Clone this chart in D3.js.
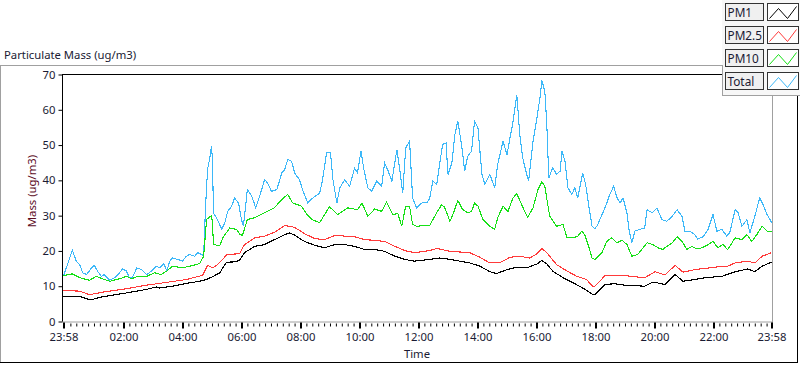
<!DOCTYPE html>
<html><head><meta charset="utf-8">
<script src="https://cdn.jsdelivr.net/npm/d3@7"></script>
<style>
html,body{margin:0;padding:0;background:#fff;}
svg{display:block;font-family:"Segoe UI","Noto Sans",sans-serif;}
</style></head>
<body>
<script>
// time in minutes since 23:58 (start), value in ug/m3
const pm1 = [[0,7.2],[33,7.1],[53,6.2],[57,6.2],[79,7.0],[128,8.1],[169,9.1],[189,9.8],[195,9.5],[222,10.0],[250,10.8],[277,11.4],[291,11.9],[303,12.7],[318,13.8],[324,15.2],[332,16.8],[348,16.9],[358,17.3],[368,19.5],[389,21.3],[409,21.8],[429,23.2],[450,24.6],[460,25.1],[470,24.5],[490,22.7],[511,21.6],[531,20.9],[552,21.8],[572,21.8],[592,21.3],[613,20.4],[633,20.4],[653,19.9],[674,18.5],[694,17.6],[714,17.1],[745,17.6],[765,18.0],[786,17.6],[806,17.1],[826,16.6],[847,15.7],[867,14.1],[881,13.6],[902,14.7],[922,15.4],[942,15.2],[963,16.3],[973,17.3],[983,16.3],[995,14.3],[1016,12.4],[1036,11.0],[1056,9.5],[1075,7.8],[1081,7.6],[1091,9.1],[1101,10.5],[1121,10.7],[1142,10.3],[1182,10.0],[1199,11.2],[1223,10.5],[1244,13.3],[1260,11.4],[1284,11.9],[1305,12.4],[1339,12.8],[1366,14.1],[1392,14.9],[1406,14.1],[1421,15.7],[1440,16.8]];

const pm25 = [[0,8.8],[33,8.6],[53,7.6],[79,8.3],[128,9.3],[169,10.3],[195,10.8],[250,11.9],[283,13.1],[293,15.9],[303,15.2],[313,16.1],[324,17.6],[332,19.0],[358,19.2],[368,21.8],[389,23.7],[409,24.2],[429,25.3],[450,27.2],[470,26.7],[490,24.9],[511,23.5],[531,23.2],[552,24.4],[572,24.2],[592,24.0],[613,23.2],[633,23.0],[653,22.7],[674,21.3],[694,20.1],[714,19.5],[745,20.1],[759,20.7],[786,19.9],[826,19.5],[847,18.2],[867,16.6],[887,16.6],[908,18.2],[928,18.5],[948,18.0],[963,19.2],[973,20.7],[983,19.5],[1003,16.1],[1024,14.3],[1044,12.8],[1064,11.9],[1077,9.8],[1081,10.0],[1091,11.4],[1101,13.0],[1142,13.0],[1182,12.4],[1203,14.1],[1223,13.2],[1244,15.9],[1260,14.0],[1284,14.7],[1325,15.4],[1351,15.7],[1366,16.6],[1392,17.1],[1406,16.6],[1421,18.5],[1440,19.5]];

const pm10 = [[0,13.0],[18,13.5],[33,12.4],[53,11.7],[67,12.8],[79,12.1],[94,11.4],[114,12.1],[128,12.8],[138,12.1],[151,12.8],[169,12.8],[185,13.8],[199,13.3],[210,14.3],[222,15.7],[242,15.2],[263,15.9],[277,16.4],[285,18.5],[291,28.9],[301,30.0],[303,28.0],[305,21.8],[318,21.5],[324,23.7],[338,26.5],[352,26.1],[358,24.8],[364,24.4],[374,28.9],[389,29.4],[409,30.8],[429,32.2],[444,34.6],[456,36.0],[466,33.6],[484,32.7],[495,30.3],[505,28.9],[521,28.0],[531,30.3],[541,32.5],[558,30.3],[578,32.2],[598,31.7],[607,33.6],[619,29.8],[633,31.9],[647,31.2],[657,33.8],[670,30.3],[680,30.6],[688,27.0],[696,32.7],[704,32.5],[710,27.5],[718,27.0],[745,27.3],[759,30.8],[769,33.1],[775,32.4],[786,28.4],[792,30.3],[802,34.3],[812,31.7],[822,30.8],[830,31.2],[836,33.6],[843,32.7],[853,28.9],[867,27.0],[877,26.1],[883,29.4],[894,32.7],[904,31.2],[914,35.0],[922,36.2],[932,33.1],[938,31.2],[944,29.5],[955,32.2],[965,37.4],[973,39.6],[979,38.3],[985,33.1],[989,29.8],[1003,27.0],[1016,27.5],[1024,23.7],[1036,23.7],[1046,24.2],[1054,25.6],[1060,24.6],[1067,21.8],[1075,18.0],[1081,17.6],[1095,19.5],[1105,22.7],[1115,23.7],[1126,22.3],[1136,23.0],[1146,21.8],[1156,18.5],[1168,19.0],[1187,22.3],[1199,21.8],[1209,20.9],[1219,20.4],[1227,21.3],[1238,22.3],[1248,24.0],[1258,22.7],[1268,20.4],[1278,21.3],[1288,20.6],[1299,20.9],[1311,21.8],[1321,22.7],[1331,20.9],[1341,21.8],[1351,20.4],[1366,23.7],[1380,23.2],[1390,24.6],[1400,22.7],[1410,24.6],[1421,27.0],[1431,25.6],[1440,25.6]];

const total = [[0,12.8],[2,13.8],[8,16.1],[18,20.2],[26,17.1],[33,16.1],[39,13.8],[47,13.3],[57,15.2],[63,15.9],[69,14.3],[77,12.8],[83,13.3],[94,11.7],[104,12.4],[114,13.8],[120,14.9],[128,14.3],[134,12.4],[140,12.4],[149,15.2],[159,14.7],[169,13.3],[179,14.3],[189,15.7],[195,15.2],[204,16.4],[210,14.3],[216,17.1],[222,18.0],[232,17.6],[242,17.1],[250,18.5],[256,19.0],[267,18.5],[273,19.5],[281,19.0],[285,18.5],[289,32.7],[293,43.1],[297,45.9],[301,49.7],[303,45.9],[305,30.8],[313,28.9],[322,26.1],[328,28.0],[334,31.2],[342,32.7],[348,35.0],[356,33.6],[362,28.9],[366,27.0],[374,37.4],[383,35.5],[391,32.2],[399,35.5],[409,40.2],[415,39.3],[423,36.9],[434,37.4],[444,42.1],[450,43.1],[456,45.9],[464,45.4],[470,42.1],[480,40.2],[486,37.4],[497,33.6],[507,35.0],[521,36.4],[527,40.2],[535,47.8],[543,47.8],[548,40.2],[556,33.6],[562,37.9],[572,40.2],[582,38.3],[592,43.5],[598,42.1],[605,48.3],[611,43.1],[619,37.9],[627,36.9],[637,39.8],[647,38.3],[653,45.0],[659,43.1],[668,39.8],[678,48.7],[684,43.1],[690,36.4],[696,49.2],[704,51.1],[710,35.0],[718,32.2],[729,33.6],[739,33.6],[745,35.0],[751,39.8],[759,38.8],[767,46.4],[771,50.2],[778,50.6],[782,41.7],[790,45.0],[796,53.0],[802,56.8],[810,49.7],[816,42.6],[822,46.8],[830,48.3],[836,56.8],[843,54.9],[851,41.7],[857,38.8],[867,41.7],[877,37.9],[883,44.5],[894,51.1],[902,47.3],[908,52.0],[914,56.3],[922,64.3],[928,53.0],[934,46.4],[942,41.7],[946,39.8],[955,51.1],[963,57.7],[969,63.4],[973,68.3],[979,65.2],[983,55.8],[987,40.7],[995,43.5],[1003,41.7],[1010,42.6],[1014,48.3],[1020,45.4],[1026,37.9],[1034,36.0],[1040,37.9],[1046,35.0],[1056,42.1],[1062,38.8],[1069,32.2],[1075,27.0],[1081,26.3],[1087,27.5],[1091,29.0],[1097,30.8],[1105,33.6],[1111,36.0],[1119,38.3],[1126,35.0],[1132,33.6],[1138,35.0],[1146,30.8],[1150,26.1],[1156,22.3],[1162,25.6],[1172,26.1],[1182,26.5],[1187,31.7],[1197,30.8],[1207,32.2],[1217,28.9],[1227,28.4],[1238,29.8],[1248,31.7],[1258,29.8],[1264,25.6],[1274,25.6],[1284,24.6],[1290,23.4],[1301,24.0],[1311,26.1],[1321,30.3],[1329,25.6],[1339,26.1],[1349,24.2],[1355,25.1],[1366,31.7],[1372,30.8],[1380,27.0],[1390,28.9],[1396,25.1],[1406,29.8],[1416,35.0],[1423,33.1],[1431,30.3],[1439,28.4],[1440,28.0]];

const seriesNames = ["PM1","PM2.5","PM10","Total"];
const seriesColors = ["#000000","#ff3a3a","#16e016","#3db8f8"];
const xTickMinutes = [0,122,242,362,482,602,722,842,962,1082,1202,1322,1440];
const xTickLabels = ["23:58","02:00","04:00","06:00","08:00","10:00","12:00","14:00","16:00","18:00","20:00","22:00","23:58"];
const yTicks = [0,10,20,30,40,50,60,70];
const titleText = "Particulate Mass (ug/m3)";
const yLabel = "Mass (ug/m3)";
const xLabel = "Time";

const W = 800, H = 365;
const FS = 11.3;
const svg = d3.select("body").append("svg").attr("width", W).attr("height", H);
svg.append("rect").attr("width", W).attr("height", H).attr("fill", "#fff");

const x = d3.scaleLinear().domain([0,1440]).range([63.5,771.5]);
const y = d3.scaleLinear().domain([0,70]).range([321.5,74.5]);

const txtCol = "#1a1a33";

// title
svg.append("text").attr("x",4).attr("y",59).attr("font-size",FS).attr("fill",txtCol).text(titleText);

// outer frame
svg.append("line").attr("x1",0).attr("x2",722).attr("y1",65.5).attr("y2",65.5).attr("stroke","#a0a0a0");
svg.append("line").attr("x1",0.5).attr("x2",0.5).attr("y1",65).attr("y2",363).attr("stroke","#a0a0a0");
svg.append("line").attr("x1",0).attr("x2",798).attr("y1",362.5).attr("y2",362.5).attr("stroke","#000");
svg.append("line").attr("x1",797.5).attr("x2",797.5).attr("y1",95).attr("y2",363).attr("stroke","#000");

// plot frame
const g = svg.append("g");
g.append("line").attr("x1",62).attr("x2",773).attr("y1",74.5).attr("y2",74.5).attr("stroke","#000");
g.append("line").attr("x1",772.5).attr("x2",772.5).attr("y1",74).attr("y2",323).attr("stroke","#a0a0a0");

// clip for lines
svg.append("clipPath").attr("id","clip").append("rect").attr("x",63).attr("y",75).attr("width",709).attr("height",247);

const line = d3.line().x(d=>x(d[0])).y(d=>y(d[1])).curve(d3.curveLinear);
const data = [pm1, pm25, pm10, total];
const order = [3,2,1,0];
const lg = svg.append("g").attr("clip-path","url(#clip)");
order.forEach(i=>{
  lg.append("path").datum(data[i]).attr("d",line).attr("fill","none")
    .attr("stroke",seriesColors[i]).attr("stroke-width",1.1).attr("shape-rendering","crispEdges");
});

// y axis
const yAxis = d3.axisLeft(y).tickValues(yTicks).tickSize(4).tickPadding(3).tickFormat(d3.format("d"));
const ya = svg.append("g").attr("transform","translate(62.5,0)").call(yAxis);
ya.select(".domain").attr("stroke","#000").attr("d","M0,74.5V322");
ya.selectAll(".tick line").attr("stroke","#000");
ya.selectAll("text").attr("font-size",FS).attr("fill",txtCol).attr("font-family","Segoe UI, Noto Sans, sans-serif");

// x axis
const minorTicks = d3.range(12,1440,12).map(m=>m+2).filter(m=>m<1440 && !xTickMinutes.some(t=>Math.abs(t-m)<4));
const xa = svg.append("g").attr("transform","translate(0,321.5)");
xa.append("line").attr("x1",62).attr("x2",773).attr("y1",0.5).attr("y2",0.5).attr("stroke","#a0a0a0");
const xAxisMinor = d3.axisBottom(x).tickValues(minorTicks).tickSize(4).tickFormat("");
const xm = xa.append("g").attr("transform","translate(0,1)").call(xAxisMinor);
xm.select(".domain").remove();
xm.selectAll(".tick line").attr("stroke","#000").attr("transform","translate(0,1)").attr("y2",3);
const xAxis = d3.axisBottom(x).tickValues(xTickMinutes).tickSize(6).tickPadding(4).tickFormat((d,i)=>xTickLabels[i]);
const xM = xa.append("g").attr("transform","translate(0,1)").call(xAxis);
xM.select(".domain").remove();
xM.selectAll(".tick line").attr("stroke","#000").attr("stroke-width",2);
xM.selectAll("text").attr("font-size",FS).attr("fill",txtCol).attr("font-family","Segoe UI, Noto Sans, sans-serif");

// axis labels
svg.append("text").attr("x",417).attr("y",358).attr("text-anchor","middle").attr("font-size",FS).attr("fill",txtCol).text(xLabel);
svg.append("text").attr("transform","translate(36,191) rotate(-90)").attr("text-anchor","middle").attr("font-size",FS).attr("fill","#5c0b1e").text(yLabel);

// legend panel
const leg = svg.append("g");
leg.append("rect").attr("x",722).attr("y",0).attr("width",78).attr("height",95).attr("fill","#f7f7f7");
leg.append("line").attr("x1",722.5).attr("x2",722.5).attr("y1",65).attr("y2",95).attr("stroke","#a0a0a0");
leg.append("line").attr("x1",722).attr("x2",800).attr("y1",95.5).attr("y2",95.5).attr("stroke","#a0a0a0");
seriesNames.forEach((n,i)=>{
  const ty = 3.5 + i*23;
  leg.append("rect").attr("x",725.5).attr("y",ty).attr("width",38).attr("height",17).attr("fill","#f0f0f0").attr("stroke","#333");
  leg.append("text").attr("x",727.5).attr("y",ty+13).attr("font-size",FS+0.5).attr("fill",txtCol).text(n);
  leg.append("rect").attr("x",767.5).attr("y",ty).attr("width",31).attr("height",17).attr("fill","#fff").attr("stroke","#333");
  const pts = [[2,15],[11,5],[20,15],[29,3]].map(p=>[767.5+p[0], ty+p[1]]);
  leg.append("path").attr("d",d3.line()(pts)).attr("fill","none").attr("stroke",seriesColors[i]).attr("stroke-width",1);
});
</script>
</body></html>
